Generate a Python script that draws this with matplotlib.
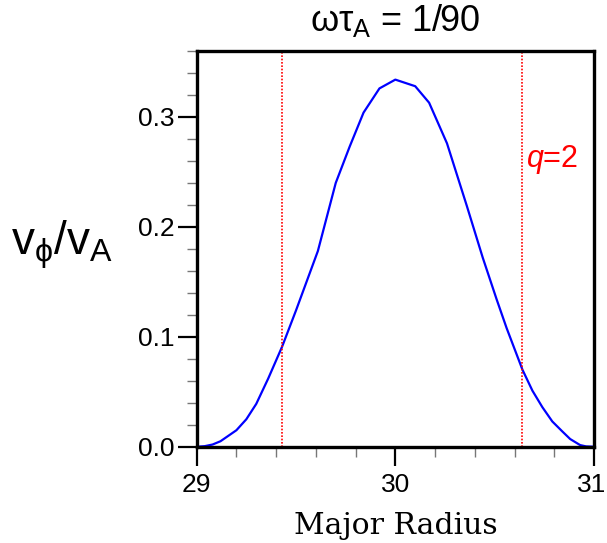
import numpy as np
import matplotlib
matplotlib.use("Agg")
import matplotlib.pyplot as plt
import matplotlib.transforms as mtransforms
from matplotlib.ticker import MultipleLocator

plt.rcParams['font.family'] = ['Liberation Sans', 'DejaVu Sans']
plt.rcParams['mathtext.fontset'] = 'custom'
plt.rcParams['mathtext.rm'] = 'Liberation Sans'
plt.rcParams['mathtext.it'] = 'Liberation Sans:italic'
plt.rcParams['mathtext.bf'] = 'Liberation Sans:bold'

# velocity profile
radius = [29.0, 29.04, 29.08, 29.12, 29.2, 29.25, 29.3, 29.36, 29.43, 29.5,
          29.61, 29.70, 29.77, 29.84, 29.92, 30.0, 30.1, 30.17, 30.26, 30.36,
          30.44, 30.51, 30.56, 30.64, 30.69, 30.74, 30.79, 30.84, 30.88, 30.93,
          30.96, 31.0]
v_phi = [0.0, 0.0005, 0.002, 0.005, 0.015, 0.025, 0.039, 0.062, 0.091, 0.124,
         0.178, 0.240, 0.273, 0.304, 0.326, 0.334, 0.328, 0.313, 0.276, 0.219,
         0.172, 0.134, 0.108, 0.070, 0.051, 0.036, 0.023, 0.014, 0.007, 0.0015,
         0.0003, 0.0]
q2_surfaces = [29.43, 30.64]

fig = plt.figure(figsize=(6.07, 5.43), dpi=100)
ax = fig.add_axes([0.324, 0.1773, 0.6546, 0.7287])

ax.plot(radius, v_phi, color='#0000ff', lw=1.6)
for xs in q2_surfaces:
    ax.axvline(xs, color='red', lw=1.2, ls=(0, (1, 1)))
ax.text(30.66, 0.261, r'$q$=2', color='red', fontsize=22, va='center', ha='left')

ax.set_xlim(29, 31)
ax.set_ylim(0, 0.36)
ax.set_xticks([29, 30, 31])
ax.set_yticks([0.0, 0.1, 0.2, 0.3])
ax.set_yticklabels(['0.0', '0.1', '0.2', '0.3'])
ax.xaxis.set_minor_locator(MultipleLocator(0.2))
ax.yaxis.set_minor_locator(MultipleLocator(0.02))
ax.tick_params(which='major', length=14, width=1.6, labelsize=19, direction='out')
ax.tick_params(which='minor', length=7, width=1.0, color='#777777', direction='out')
ax.tick_params(axis='x', which='major', pad=5)
ax.tick_params(axis='y', which='major', pad=2)
for s in ax.spines.values():
    s.set_linewidth(2.4)
# nudge the last x label a touch left so it stays on the canvas
lab = ax.get_xticklabels()[-1]
lab.set_transform(lab.get_transform() +
                  mtransforms.ScaledTranslation(-2 / 100, 0, fig.dpi_scale_trans))

ax.set_xlabel('Major Radius', family='DejaVu Serif', fontsize=21.5, labelpad=11)
fig.text(0.651, 0.962, r'$\mathregular{\omega\tau_A}$ = 1/90', fontsize=26,
         ha='center', va='center')
fig.text(0.102, 0.549, r'$\mathregular{v_\phi/v_A}$', fontsize=33,
         ha='center', va='center')

fig.savefig('out.png', dpi=100)
